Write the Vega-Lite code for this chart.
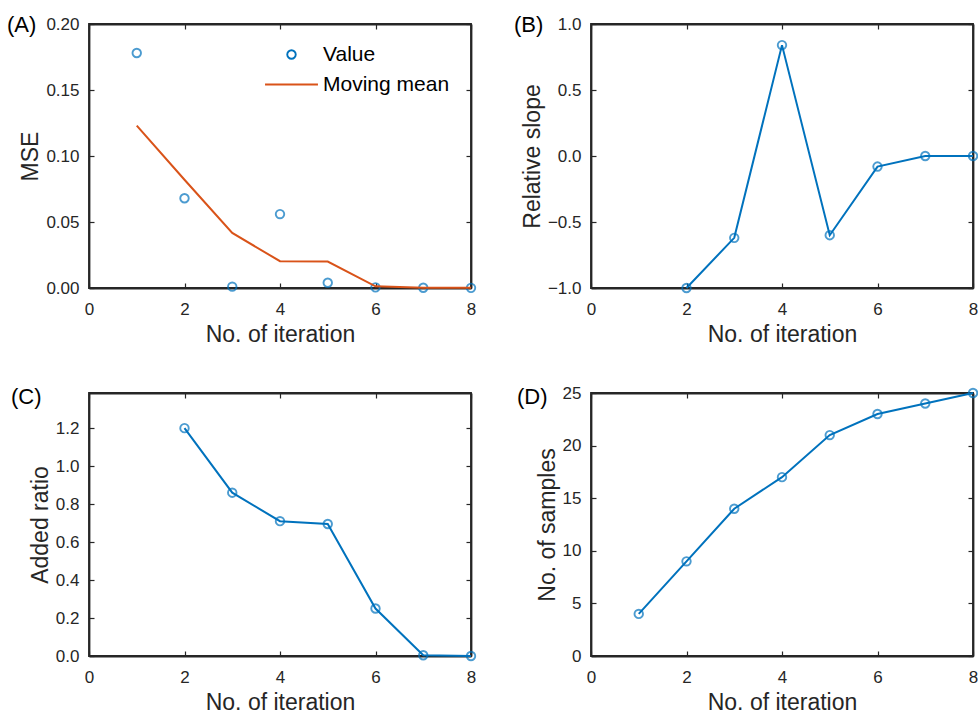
{
  "$schema": "https://vega.github.io/schema/vega-lite/v6.json",
  "padding": {"left": 6, "top": 13, "right": 0, "bottom": 0},
  "background": "white",
  "columns": 2,
  "spacing": {"row": 105, "column": 120},
  "bounds": "flush",
  "datasets": {
    "mse": [
      {"iteration": 1, "series": "Value", "mse": 0.178},
      {"iteration": 2, "series": "Value", "mse": 0.068},
      {"iteration": 3, "series": "Value", "mse": 0.001},
      {"iteration": 4, "series": "Value", "mse": 0.056},
      {"iteration": 5, "series": "Value", "mse": 0.004},
      {"iteration": 6, "series": "Value", "mse": 0.0005},
      {"iteration": 7, "series": "Value", "mse": 0.0002},
      {"iteration": 8, "series": "Value", "mse": 0.0001},
      {"iteration": 1, "series": "Moving mean", "mse": 0.123},
      {"iteration": 2, "series": "Moving mean", "mse": 0.082},
      {"iteration": 3, "series": "Moving mean", "mse": 0.0417},
      {"iteration": 4, "series": "Moving mean", "mse": 0.0203},
      {"iteration": 5, "series": "Moving mean", "mse": 0.0200},
      {"iteration": 6, "series": "Moving mean", "mse": 0.0013},
      {"iteration": 7, "series": "Moving mean", "mse": 0.0002},
      {"iteration": 8, "series": "Moving mean", "mse": 0.0001}
    ],
    "slope": [
      {"iteration": 2, "slope": -1.0},
      {"iteration": 3, "slope": -0.62},
      {"iteration": 4, "slope": 0.84},
      {"iteration": 5, "slope": -0.60},
      {"iteration": 6, "slope": -0.08},
      {"iteration": 7, "slope": 0.0},
      {"iteration": 8, "slope": 0.0}
    ],
    "ratio": [
      {"iteration": 2, "ratio": 1.2},
      {"iteration": 3, "ratio": 0.86},
      {"iteration": 4, "ratio": 0.71},
      {"iteration": 5, "ratio": 0.695},
      {"iteration": 6, "ratio": 0.25},
      {"iteration": 7, "ratio": 0.004},
      {"iteration": 8, "ratio": 0.0}
    ],
    "samples": [
      {"iteration": 1, "samples": 4},
      {"iteration": 2, "samples": 9},
      {"iteration": 3, "samples": 14},
      {"iteration": 4, "samples": 17},
      {"iteration": 5, "samples": 21},
      {"iteration": 6, "samples": 23},
      {"iteration": 7, "samples": 24},
      {"iteration": 8, "samples": 25}
    ]
  },
  "concat": [
    {
      "title": {"text": "(A)", "dx": -82, "dy": 26},
      "width": 382,
      "height": 264,
      "data": {"name": "mse"},
      "layer": [
        {
          "transform": [{"filter": "datum.series === 'Value'"}],
          "mark": {"type": "point", "filled": false, "size": 72, "strokeWidth": 1.9},
          "encoding": {
            "x": {"field": "iteration", "type": "quantitative", "scale": {"domain": [0, 8], "nice": false}, "axis": {"values": [0, 2, 4, 6, 8], "title": "No. of iteration"}},
            "y": {"field": "mse", "type": "quantitative", "scale": {"domain": [0, 0.2], "nice": false}, "axis": {"values": [0, 0.05, 0.1, 0.15, 0.2], "format": ".2f", "title": "MSE"}},
            "color": {"field": "series", "type": "nominal", "scale": {"domain": ["Value", "Moving mean"], "range": ["#0072BD", "#D95319"]},
              "legend": {"title": null, "orient": "none", "legendX": 192, "legendY": 20, "padding": 0, "labelFontSize": 21, "labelColor": "#000000", "symbolSize": 72, "symbolStrokeWidth": 1.9, "labelOffset": 21, "rowPadding": 8,
                "encode": {"symbols": {"update": {"size": {"signal": "datum.value === 'Moving mean' ? 2800 : 72"}}}}}},
            "shape": {"field": "series", "type": "nominal", "scale": {"domain": ["Value", "Moving mean"], "range": ["circle", "stroke"]},
              "legend": {"title": null, "orient": "none", "legendX": 192, "legendY": 20, "padding": 0, "labelFontSize": 21, "labelColor": "#000000", "symbolSize": 72, "symbolStrokeWidth": 1.9, "labelOffset": 21, "rowPadding": 8,
                "encode": {"symbols": {"update": {"size": {"signal": "datum.value === 'Moving mean' ? 2800 : 72"}}}}}}
          }
        },
        {
          "transform": [{"filter": "datum.series === 'Moving mean'"}],
          "mark": {"type": "line", "strokeWidth": 2},
          "encoding": {
            "x": {"field": "iteration", "type": "quantitative", "axis": null},
            "y": {"field": "mse", "type": "quantitative", "axis": null},
            "color": {"field": "series", "type": "nominal",
              "legend": {"title": null, "orient": "none", "legendX": 192, "legendY": 20, "padding": 0, "labelFontSize": 21, "labelColor": "#000000", "symbolSize": 72, "symbolStrokeWidth": 1.9, "labelOffset": 21, "rowPadding": 8,
                "encode": {"symbols": {"update": {"size": {"signal": "datum.value === 'Moving mean' ? 2800 : 72"}}}}}}
          }
        },
        {
          "mark": {"type": "point", "opacity": 0},
          "encoding": {
            "x": {"field": "iteration", "type": "quantitative", "axis": {"orient": "top", "labels": false, "title": null, "values": [0, 2, 4, 6, 8]}},
            "y": {"field": "mse", "type": "quantitative", "axis": {"orient": "right", "labels": false, "title": null, "values": [0, 0.05, 0.1, 0.15, 0.2]}}
          }
        }
      ],
      "resolve": {"axis": {"x": "independent", "y": "independent"}}
    },
    {
      "title": {"text": "(B)", "dx": -77, "dy": 26},
      "width": 382,
      "height": 264,
      "data": {"name": "slope"},
      "layer": [
        {
          "mark": {"type": "line", "strokeWidth": 2, "color": "#0072BD"},
          "encoding": {
            "x": {"field": "iteration", "type": "quantitative", "scale": {"domain": [0, 8], "nice": false}, "axis": {"values": [0, 2, 4, 6, 8], "title": "No. of iteration"}},
            "y": {"field": "slope", "type": "quantitative", "scale": {"domain": [-1, 1], "nice": false}, "axis": {"values": [-1, -0.5, 0, 0.5, 1], "format": ".1f", "title": "Relative slope"}}
          }
        },
        {
          "mark": {"type": "point", "filled": false, "size": 72, "strokeWidth": 1.9, "color": "#0072BD"},
          "encoding": {
            "x": {"field": "iteration", "type": "quantitative", "axis": null},
            "y": {"field": "slope", "type": "quantitative", "axis": null}
          }
        },
        {
          "mark": {"type": "point", "opacity": 0},
          "encoding": {
            "x": {"field": "iteration", "type": "quantitative", "axis": {"orient": "top", "labels": false, "title": null, "values": [0, 2, 4, 6, 8]}},
            "y": {"field": "slope", "type": "quantitative", "axis": {"orient": "right", "labels": false, "title": null, "values": [-1, -0.5, 0, 0.5, 1]}}
          }
        }
      ],
      "resolve": {"axis": {"x": "independent", "y": "independent"}}
    },
    {
      "title": {"text": "(C)", "dx": -78, "dy": 21},
      "width": 382,
      "height": 263,
      "data": {"name": "ratio"},
      "layer": [
        {
          "mark": {"type": "line", "strokeWidth": 2, "color": "#0072BD"},
          "encoding": {
            "x": {"field": "iteration", "type": "quantitative", "scale": {"domain": [0, 8], "nice": false}, "axis": {"values": [0, 2, 4, 6, 8], "title": "No. of iteration"}},
            "y": {"field": "ratio", "type": "quantitative", "scale": {"domain": [0, 1.385], "nice": false}, "axis": {"values": [0, 0.2, 0.4, 0.6, 0.8, 1.0, 1.2], "format": ".1f", "title": "Added ratio"}}
          }
        },
        {
          "mark": {"type": "point", "filled": false, "size": 72, "strokeWidth": 1.9, "color": "#0072BD"},
          "encoding": {
            "x": {"field": "iteration", "type": "quantitative", "axis": null},
            "y": {"field": "ratio", "type": "quantitative", "axis": null}
          }
        },
        {
          "mark": {"type": "point", "opacity": 0},
          "encoding": {
            "x": {"field": "iteration", "type": "quantitative", "axis": {"orient": "top", "labels": false, "title": null, "values": [0, 2, 4, 6, 8]}},
            "y": {"field": "ratio", "type": "quantitative", "axis": {"orient": "right", "labels": false, "title": null, "values": [0, 0.2, 0.4, 0.6, 0.8, 1.0, 1.2]}}
          }
        }
      ],
      "resolve": {"axis": {"x": "independent", "y": "independent"}}
    },
    {
      "title": {"text": "(D)", "dx": -74, "dy": 29},
      "width": 382,
      "height": 263,
      "data": {"name": "samples"},
      "layer": [
        {
          "mark": {"type": "line", "strokeWidth": 2, "color": "#0072BD"},
          "encoding": {
            "x": {"field": "iteration", "type": "quantitative", "scale": {"domain": [0, 8], "nice": false}, "axis": {"values": [0, 2, 4, 6, 8], "title": "No. of iteration"}},
            "y": {"field": "samples", "type": "quantitative", "scale": {"domain": [0, 25], "nice": false}, "axis": {"values": [0, 5, 10, 15, 20, 25], "format": "d", "title": "No. of samples"}}
          }
        },
        {
          "mark": {"type": "point", "filled": false, "size": 72, "strokeWidth": 1.9, "color": "#0072BD"},
          "encoding": {
            "x": {"field": "iteration", "type": "quantitative", "axis": null},
            "y": {"field": "samples", "type": "quantitative", "axis": null}
          }
        },
        {
          "mark": {"type": "point", "opacity": 0},
          "encoding": {
            "x": {"field": "iteration", "type": "quantitative", "axis": {"orient": "top", "labels": false, "title": null, "values": [0, 2, 4, 6, 8]}},
            "y": {"field": "samples", "type": "quantitative", "axis": {"orient": "right", "labels": false, "title": null, "values": [0, 5, 10, 15, 20, 25]}}
          }
        }
      ],
      "resolve": {"axis": {"x": "independent", "y": "independent"}}
    }
  ],
  "config": {
    "font": "Liberation Sans",
    "view": {"stroke": "#262626", "strokeWidth": 1.8},
    "axis": {
      "grid": false,
      "domainColor": "#262626",
      "domainWidth": 1.8,
      "tickColor": "#262626",
      "tickWidth": 1.2,
      "tickSize": -5,
      "labelColor": "#262626",
      "labelFont": "Liberation Sans",
      "labelFontSize": 17,
      "titleFont": "Liberation Sans",
      "titleFontSize": 23,
      "titleFontWeight": "normal",
      "titleColor": "#262626"
    },
    "axisX": {"labelPadding": 18, "titlePadding": 6, "labelFlush": false},
    "axisY": {"labelPadding": 15, "titlePadding": 3},
    "title": {"fontSize": 22, "fontWeight": "normal", "anchor": "start", "frame": "group", "color": "#000000", "baseline": "middle", "offset": 0}
  }
}
